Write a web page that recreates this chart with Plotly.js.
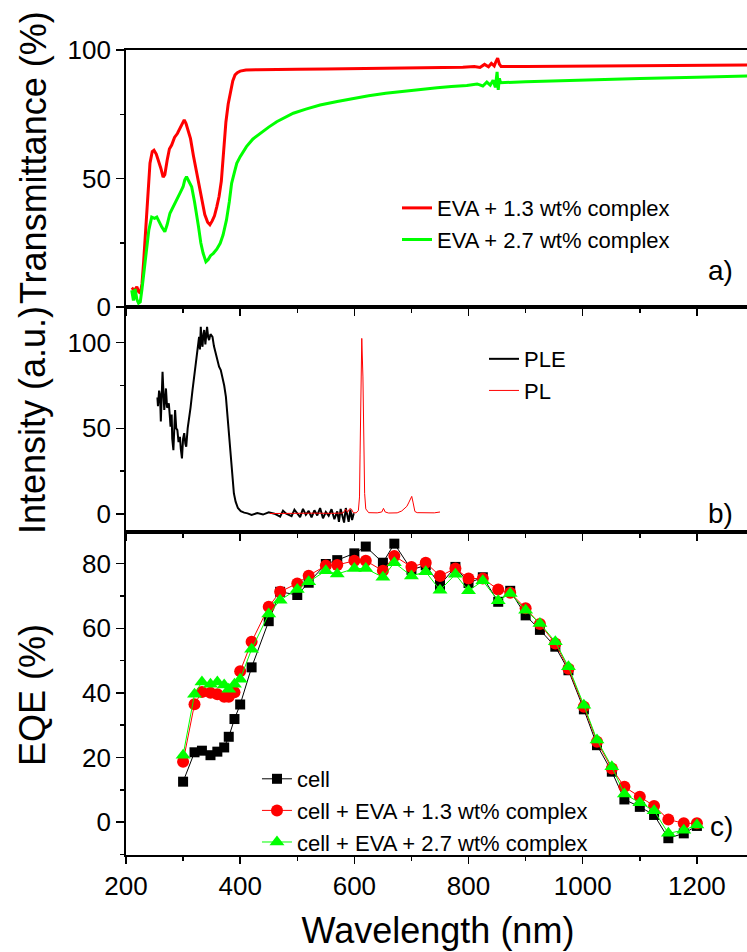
<!DOCTYPE html>
<html>
<head>
<meta charset="utf-8">
<script src="https://cdn.plot.ly/plotly-3.0.1.min.js"></script>
<style>
html,body{margin:0;padding:0;overflow:hidden;background:#fff;}
#chart{width:760px;height:952px;}
</style>
</head>
<body>
<div id="chart"></div>
<script>
// ---- Panel a: transmittance ----
var wlT13 = [210,215,219,222,225,228,231,234,238,242,246,249,253,257,261,265,268,272,276,280,285,290,295,299,302,305,309,313,318,323,328,333,338,343,347,351,355,359,363,367,371,375,379,383,387,391,395,400,410,430,460,500,550,600,650,700,750,790,810,820,828,835,840,845,848,851,854,857,900,1000,1100,1200,1290];
var T13 = [7.5,6.5,7.9,6.0,5.4,9,18,28,42,56,60.5,61,59.5,57,54,50.5,51.5,57,61.5,63,66,67.5,69.5,71.5,72.8,71.5,68.5,65.5,59,53,47,41,36,33,32,33.5,35.5,39,43,49,60,72,79,84,88,90.3,91.2,91.8,92.2,92.3,92.5,92.5,92.6,92.7,92.9,93.0,93.1,93.3,93.6,93.2,94.4,93.5,94.8,93.8,95.5,96.8,94.5,93.6,93.6,93.8,93.9,94.0,94.2];
var wlT27 = [210,213,216,219,222,225,228,232,236,240,245,250,254,258,263,268,272,277,283,289,295,300,303,306,309,312,315,320,324,327,331,335,340,344,348,353,359,365,370,376,381,385,390,394,400,411,422,435,450,464,480,493,515,540,570,598,625,655,685,715,745,770,797,815,825,832,838,843,847,850,852,854,856,900,1000,1100,1200,1290];
var T27 = [6.5,2.5,7,3,1.5,2,7,15,23.5,30,35,34.5,35,33,31,29.3,32,36.5,39,41.6,44.5,46.8,49.5,50.7,49.5,48,46.8,41,36,31.2,25,21,17.6,18.5,20,20.9,22.5,24.8,28,33.9,41,48.1,52.5,55.9,58.5,62.4,65.3,67.6,70,72.1,73.8,75.4,77,78.6,80,81.2,82.2,83.2,84,84.7,85.3,85.8,86.2,86.8,86.0,87.5,86.3,88.2,85.5,91.5,84.5,89,87.3,87.6,88.3,88.9,89.4,89.9];

// ---- Panel b: PLE / PL ----
var wlPLE = [255,256,258,259.6,261,262,264,265.5,267,268.5,270,272,275,277,278,280,281,283,284.5,286,288,290,292,294.5,296,298,300,302,304,305.5,308,311,313,316.5,318,320.6,323,325,327,328,329.5,331,332.5,334,335.5,337,339,340.5,342,344,345.6,348,351.5,354,357,360,363,366,369,372,375,378,381,384,386.5,389,392,396,401,407,413,420,430,440,450,460,470,475,480,490,495,500,505,510,515,520,525,530,535,540,545,550,555,560,565,570,573,576,579,582,585,588,590,593,596,599];
var PLE = [68,63,72,69.4,54,62,83,72,60.7,66,73.3,62,64.6,56,51,58,44,37.3,48,60.7,50,49,42,45,38,32.5,44,47.2,41,39.3,50,56.8,62,72.3,76,84,90,95.7,100,103.4,96,109.3,100,97.6,105,107.4,99,104,109.3,103,101.5,105,103.4,98,93.8,91,86,84,80.1,75,68.4,57,43.2,30,19.8,12,7.2,3.5,1.7,0.8,0.4,-0.5,0.6,-0.3,1.0,0.2,-1.5,2.0,0.3,-1.2,2.5,0.5,-1.8,3.0,-0.5,1.8,-2.0,2.2,-0.8,3.5,-2.5,1.2,-1.0,2.8,-3.0,1.5,-4.5,3.0,-2.0,-5.0,3.5,-1.0,-4.5,2.5,-3.5,0.5];
var wlPL = [452,470,500,530,560,580,585,588,592,595,598,603,607,609,610,611,613,615,616.5,618,620,625,640,648,651,654,660,675,683,688,692,695,698,700.5,703,706,710,725,740,750];
var PL = [0.3,0.4,0.3,0.5,0.4,0.6,2.8,1.0,3.2,2.8,0.8,0.7,2.0,10,35,70,102.5,80,40,12,3,0.8,0.7,1.2,3.3,1.2,0.6,0.7,1.8,3.5,4.5,6.5,9,10.3,6.5,1.5,0.8,0.6,0.7,1.2];

// ---- Panel c: EQE ----
var wlEQE = [300,320,333,348,360,372,380,390,400,420,450,470,500,520,550,570,600,620,650,670,700,725,750,777,800,825,852,873,900,925,952,975,1002,1025,1051,1073,1100,1125,1150,1177,1200];
var eqeCell = [12.5,21.6,22.1,20.7,21.8,23.1,26.4,31.9,36.4,47.9,62.2,71.3,70.3,74.1,79.9,81.1,83.2,85.3,80.3,86.2,78.1,79.5,73.4,79.0,74.0,75.8,68.2,71.6,64.0,59.5,54.3,47.0,34.9,23.8,15.6,7.0,4.7,2.2,-5.0,-3.5,-1.2];
var eqe13 = [18.7,36.5,40.3,40.0,39.6,38.8,38.8,40.2,46.7,55.8,66.7,71.3,73.9,76.3,79.4,79.6,80.9,80.9,77.8,82.4,79.0,80.3,76.2,78.5,75.4,75.4,72.0,71.0,66.2,61.3,55.3,47.5,35.7,24.9,16.6,10.9,7.8,5.0,0.8,-0.4,-0.4];
var eqe27 = [20.7,39.6,43.4,42.7,43.4,42.4,41.1,42.7,44.2,53.5,64.4,68.7,72.0,74.4,77.8,76.8,78.5,78.5,75.8,80.3,76.2,77.5,71.8,76.7,71.6,74.7,68.5,70.8,65.6,61.5,55.8,48.1,36.2,25.4,17.1,8.7,6.0,3.5,-3.5,-2.5,-0.9];

var xTicks = [200,400,600,800,1000,1200];
var rangeA = [0,100], rangeB = [-10.5,120.8], rangeC = [-10.2,89.8];

var traces = [
  {x: wlT13, y: T13, xaxis:'x3', yaxis:'y3', mode:'lines', name:'EVA + 1.3 wt% complex',
   line:{color:'#ff0000', width:3}, legend:'legend'},
  {x: wlT27, y: T27, xaxis:'x3', yaxis:'y3', mode:'lines', name:'EVA + 2.7 wt% complex',
   line:{color:'#00ff00', width:3}, legend:'legend'},
  {x: wlPLE, y: PLE, xaxis:'x2', yaxis:'y2', mode:'lines', name:'PLE',
   line:{color:'#000000', width:2}, legend:'legend2'},
  {x: wlPL, y: PL, xaxis:'x2', yaxis:'y2', mode:'lines', name:'PL',
   line:{color:'#ff0000', width:1}, legend:'legend2'},
  {x: wlEQE, y: eqeCell, xaxis:'x', yaxis:'y', mode:'lines+markers', name:'cell',
   line:{color:'#000000', width:1}, marker:{symbol:'square', size:10, color:'#000000'}, legend:'legend3'},
  {x: wlEQE, y: eqe13, xaxis:'x', yaxis:'y', mode:'lines+markers', name:'cell + EVA + 1.3 wt% complex',
   line:{color:'#ff0000', width:1}, marker:{symbol:'circle', size:12, color:'#ff0000'}, legend:'legend3'},
  {x: wlEQE, y: eqe27, xaxis:'x', yaxis:'y', mode:'lines+markers', name:'cell + EVA + 2.7 wt% complex',
   line:{color:'#00ff00', width:1}, marker:{symbol:'triangle-up', size:13, color:'#00ff00'}, legend:'legend3'}
];

var FONT = 'Liberation Sans, Arial, sans-serif';
function xax(extra){
  var a = {range:[200,1293], tickvals:xTicks, ticks:'outside', ticklen:7, tickwidth:1.5, tickcolor:'#000',
    minor:{dtick:100, tick0:200, ticks:'outside', ticklen:4, tickwidth:1.5, tickcolor:'#000'},
    showline:true, linewidth:1.8, linecolor:'#000', mirror:true, showgrid:false, zeroline:false,
    tickfont:{size:26, color:'#000'}};
  for (var k in extra) a[k]=extra[k];
  return a;
}
function yax(extra){
  var a = {ticks:'outside', ticklen:8, tickwidth:1.5, tickcolor:'#000',
    showline:true, linewidth:1.8, linecolor:'#000', mirror:true, showgrid:false, zeroline:false,
    tickfont:{size:26, color:'#000'}};
  for (var k in extra) a[k]=extra[k];
  return a;
}
function rax(over, anchor, rng, dt){
  return {overlaying:over, anchor:anchor, side:'right', range:rng, tick0:0, dtick:dt,
    ticks:'inside', ticklen:8, tickwidth:1.5, tickcolor:'#000', showticklabels:false,
    showline:false, showgrid:false, zeroline:false};
}

var layout = {
  width:760, height:952,
  margin:{l:126, r:10, t:50, b:97},
  paper_bgcolor:'#fff', plot_bgcolor:'#fff',
  font:{family:FONT, color:'#000'},
  showlegend:true,
  xaxis: xax({anchor:'y', title:{text:'Wavelength (nm)', font:{size:36}, standoff:18}}),
  xaxis2: xax({anchor:'y2', matches:'x', showticklabels:false}),
  xaxis3: xax({anchor:'y3', matches:'x', showticklabels:false}),
  yaxis: yax({domain:[0,0.4012], range:rangeC, tick0:0, dtick:20,
    minor:{dtick:10, tick0:0, ticks:'outside', ticklen:4, tickwidth:1.5, tickcolor:'#000'}}),
  yaxis2: yax({domain:[0.4012,0.6807], range:rangeB, tick0:0, dtick:50,
    minor:{dtick:25, tick0:0, ticks:'outside', ticklen:4, tickwidth:1.5, tickcolor:'#000'}}),
  yaxis3: yax({domain:[0.6807,1], range:rangeA, tick0:0, dtick:50,
    minor:{dtick:25, tick0:0, ticks:'outside', ticklen:4, tickwidth:1.5, tickcolor:'#000'}}),
  yaxis4: rax('y', 'x', rangeC, 20),
  yaxis5: rax('y2', 'x2', rangeB, 50),
  yaxis6: rax('y3', 'x3', rangeA, 50),
  legend: {x:0.4343, y:0.8297, xanchor:'left', yanchor:'top', bgcolor:'rgba(0,0,0,0)',
    font:{size:22, color:'#000'}, tracegroupgap:0},
  legend2: {x:0.5737, y:0.6422, xanchor:'left', yanchor:'top', bgcolor:'rgba(0,0,0,0)',
    font:{size:22, color:'#000'}, tracegroupgap:0},
  legend3: {x:0.2099, y:0.1205, xanchor:'left', yanchor:'top', bgcolor:'rgba(0,0,0,0)',
    font:{size:22, color:'#000'}, tracegroupgap:0},
  annotations: [
    {text:'Transmittance (%)', xref:'paper', yref:'paper', x:-0.149, y:0.8658, textangle:-90,
     showarrow:false, font:{size:36}, xanchor:'center', yanchor:'middle'},
    {text:'Intensity (a.u.)', xref:'paper', yref:'paper', x:-0.149, y:0.5404, textangle:-90,
     showarrow:false, font:{size:36}, xanchor:'center', yanchor:'middle'},
    {text:'EQE (%)', xref:'paper', yref:'paper', x:-0.149, y:0.1988, textangle:-90,
     showarrow:false, font:{size:36}, xanchor:'center', yanchor:'middle'},
    {text:'a)', xref:'paper', yref:'paper', x:0.976, y:0.7267, showarrow:false,
     font:{size:28}, xanchor:'right', yanchor:'middle'},
    {text:'b)', xref:'paper', yref:'paper', x:0.976, y:0.4248, showarrow:false,
     font:{size:28}, xanchor:'right', yanchor:'middle'},
    {text:'c)', xref:'paper', yref:'paper', x:0.976, y:0.036, showarrow:false,
     font:{size:28}, xanchor:'right', yanchor:'middle'}
  ]
};

Plotly.newPlot('chart', traces, layout, {staticPlot:true, displayModeBar:false});
</script>
</body>
</html>
